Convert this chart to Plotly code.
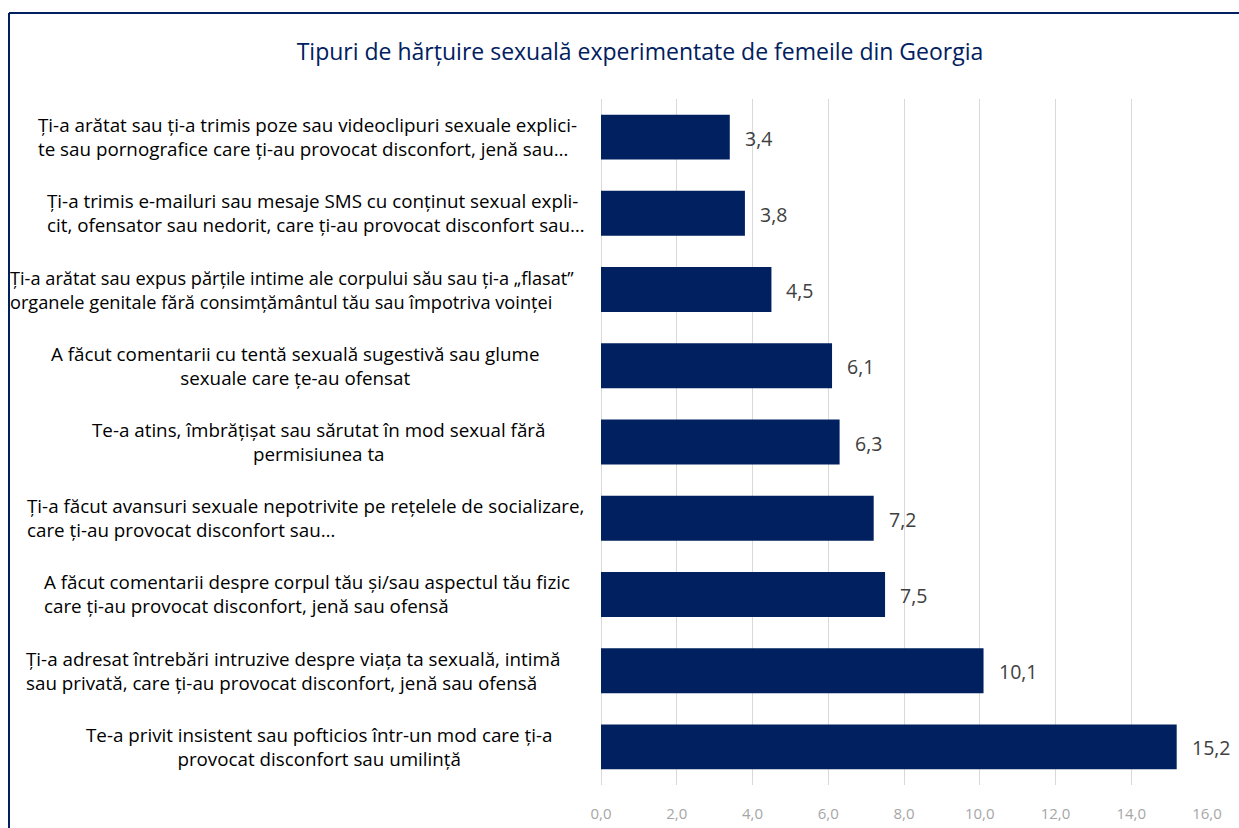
import plotly.graph_objects as go

title = "Tipuri de hărțuire sexuală experimentate de femeile din Georgia"

categories = [
    "Ți-a arătat sau ți-a trimis poze sau videoclipuri sexuale explici-<br>te sau pornografice care ți-au provocat disconfort, jenă sau…",
    "Ți-a trimis e-mailuri sau mesaje SMS cu conținut sexual expli-<br>cit, ofensator sau nedorit, care ți-au provocat disconfort sau…",
    "Ți-a arătat sau expus părțile intime ale corpului său sau ți-a „flasat”<br>organele genitale fără consimțământul tău sau împotriva voinței",
    "A făcut comentarii cu tentă sexuală sugestivă sau glume<br>sexuale care țe-au ofensat",
    "Te-a atins, îmbrățișat sau sărutat în mod sexual fără<br>permisiunea ta",
    "Ți-a făcut avansuri sexuale nepotrivite pe rețelele de socializare,<br>care ți-au provocat disconfort sau…",
    "A făcut comentarii despre corpul tău și/sau aspectul tău fizic<br>care ți-au provocat disconfort, jenă sau ofensă",
    "Ți-a adresat întrebări intruzive despre viața ta sexuală, intimă<br>sau privată, care ți-au provocat disconfort, jenă sau ofensă",
    "Te-a privit insistent sau pofticios într-un mod care ți-a<br>provocat disconfort sau umilință",
]
values = [3.4, 3.8, 4.5, 6.1, 6.3, 7.2, 7.5, 10.1, 15.2]
tick_vals = [0, 2, 4, 6, 8, 10, 12, 14, 16]

# label layout (pixel x, alignment) mimicking the source rendering
label_pos = [(36, "left"), (45, "left"), (8, "left"), (295, "center"), (318, "center"),
             (25, "left"), (42, "left"), (24, "left"), (319, "center")]

W, H = 1239, 828
ML, MR, MT, MB = 601, 32, 99, 43
PW, PH = W - ML - MR, H - MT - MB

def px_x(p):
    return (p - ML) / PW

def px_y(p):
    return (H - MB - p) / PH

NAVY = "#002060"
FONT = "Open Sans"

fig = go.Figure(go.Bar(
    x=values, y=categories, orientation="h",
    marker=dict(color=NAVY, line=dict(width=0)),
    width=0.59,
    hoverinfo="x+y",
))

annotations = []
for v, c in zip(values, categories):
    annotations.append(dict(x=v, y=c, xref="x", yref="y", text=f"{v:.1f}".replace(".", ","),
                            showarrow=False, xanchor="left", xshift=13, yshift=-1,
                            font=dict(family=FONT, size=19.5, color="#404040")))
for i, (c, (px, al)) in enumerate(zip(categories, label_pos)):
    size = 18.2 if i == 2 else 18.8
    annotations.append(dict(x=px_x(px), y=c, xref="paper", yref="y", text=c,
                            showarrow=False, xanchor="left" if al == "left" else "center",
                            align=al, font=dict(family=FONT, size=size, color="#000000")))

shapes = [
    dict(type="line", xref="paper", yref="paper", x0=px_x(9), x1=px_x(W + 10),
         y0=px_y(13), y1=px_y(13), line=dict(color=NAVY, width=2)),
    dict(type="line", xref="paper", yref="paper", x0=px_x(9), x1=px_x(9),
         y0=px_y(13), y1=px_y(H + 10), line=dict(color=NAVY, width=2)),
]

fig.update_layout(
    width=W, height=H,
    margin=dict(l=ML, r=MR, t=MT, b=MB, pad=0, autoexpand=False),
    paper_bgcolor="white", plot_bgcolor="white",
    separators=",.",
    showlegend=False,
    title=dict(text=title, x=640 / W, xanchor="center",
               y=1 - 52 / H, yanchor="middle",
               font=dict(family=FONT, size=23, color=NAVY)),
    xaxis=dict(range=[0, 16], tickvals=tick_vals, tickformat=".1f",
               showgrid=True, gridcolor="#d9d9d9", gridwidth=1,
               zeroline=True, zerolinecolor="#d9d9d9", zerolinewidth=1,
               showline=False, ticks="", ticklabelstandoff=18, automargin=False,
               tickfont=dict(family=FONT, size=15, color="#a6a6a6"),
               fixedrange=True),
    yaxis=dict(autorange="reversed", showticklabels=False, showgrid=False,
               zeroline=False, showline=False, ticks="", fixedrange=True,
               automargin=False),
    annotations=annotations,
    shapes=shapes,
)

fig.write_html("out.html")
